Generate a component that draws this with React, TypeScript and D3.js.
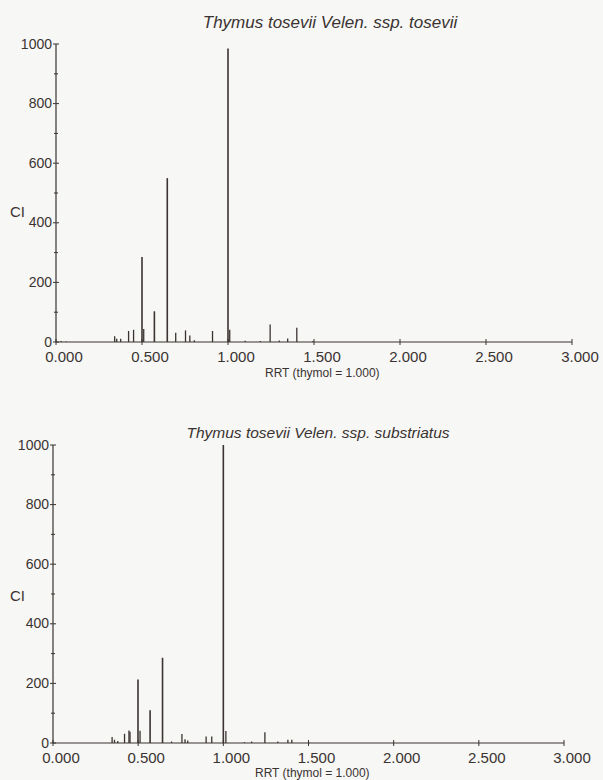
import React, { useRef, useEffect } from 'react';
import * as d3 from 'd3';

// tick values shared by both chromatograms
const rrtTicks = [0, 0.5, 1, 1.5, 2, 2.5, 3];
const ciTicks = [0, 200, 400, 600, 800, 1000];
const ciMinor = [100, 300, 500, 700, 900];

// ssp. tosevii peaks
const tosRrt = [0.03, 0.06, 0.341, 0.353, 0.376, 0.422, 0.451, 0.5, 0.51, 0.572, 0.647, 0.696, 0.753, 0.778, 0.804, 0.91, 1.0, 1.01, 1.1, 1.188, 1.245, 1.298, 1.347, 1.4, 1.494];
const tosCi = [3, 2, 19, 11, 11, 37, 41, 285, 44, 103, 550, 31, 39, 22, 6, 37, 985, 41, 4, 3, 59, 5, 12, 48, 3];

// ssp. substriatus peaks
const subRrt = [0.347, 0.361, 0.38, 0.42, 0.446, 0.452, 0.499, 0.511, 0.57, 0.643, 0.696, 0.757, 0.775, 0.791, 0.899, 0.932, 1.0, 1.015, 1.124, 1.166, 1.244, 1.32, 1.379, 1.402, 1.501];
const subCi = [20, 11, 7, 31, 42, 38, 213, 41, 110, 286, 5, 30, 13, 8, 22, 22, 1000, 40, 3, 5, 36, 5, 11, 11, 3];

const ink = '#3a3331';

const Chromatogram = () => {
  const svgRef = useRef(null);

  useEffect(() => {
    const svg = d3.select(svgRef.current);
    svg.selectAll('*').remove();

    svg.append('rect').attr('width', 603).attr('height', 780).attr('fill', '#f7f7f5');

    const panels = [
      { title: 'Thymus tosevii Velen. ssp. tosevii', rrt: tosRrt, ci: tosCi,
        x0: 56, x1: 572, y0: 342, y1: 44, titleX: 330, titleY: 28, titleSize: 17, ciY: 217, labelX: 265, labelY: 377 },
      { title: 'Thymus tosevii Velen. ssp. substriatus', rrt: subRrt, ci: subCi,
        x0: 53, x1: 564, y0: 743, y1: 445, titleX: 318, titleY: 438, titleSize: 15.5, ciY: 601, labelX: 255, labelY: 777 },
    ];

    panels.forEach(p => {
      const x = d3.scaleLinear().domain([0, 3]).range([p.x0, p.x1]);
      const y = d3.scaleLinear().domain([0, 1000]).range([p.y0, p.y1]);
      const g = svg.append('g').attr('font-family', 'Liberation Sans, Arial, sans-serif').attr('fill', ink);

      // title
      g.append('text')
        .attr('x', p.titleX).attr('y', p.titleY)
        .attr('text-anchor', 'middle')
        .attr('font-style', 'italic')
        .attr('font-size', p.titleSize)
        .text(p.title);

      // y axis
      g.append('line')
        .attr('x1', x(0)).attr('x2', x(0))
        .attr('y1', y(0)).attr('y2', y(1000))
        .attr('stroke', ink).attr('stroke-width', 1.2);
      g.selectAll('.ytick').data(ciTicks).enter().append('line')
        .attr('x1', x(0) - 3).attr('x2', x(0) + 3)
        .attr('y1', d => y(d)).attr('y2', d => y(d))
        .attr('stroke', ink).attr('stroke-width', 1);
      g.selectAll('.yminor').data(ciMinor).enter().append('line')
        .attr('x1', x(0) - 2).attr('x2', x(0) + 2)
        .attr('y1', d => y(d)).attr('y2', d => y(d))
        .attr('stroke', ink).attr('stroke-width', 1);
      g.selectAll('.ylab').data(ciTicks).enter().append('text')
        .attr('x', x(0) - 4).attr('y', d => y(d) + 4.5)
        .attr('text-anchor', 'end')
        .attr('font-size', 14)
        .text(d => d);

      g.append('text')
        .attr('x', 10).attr('y', p.ciY)
        .attr('font-size', 15)
        .text('CI');

      // x axis
      g.append('line')
        .attr('x1', x(0)).attr('x2', x(3))
        .attr('y1', y(0)).attr('y2', y(0))
        .attr('stroke', ink).attr('stroke-width', 1.2);
      g.selectAll('.xtick').data(rrtTicks).enter().append('line')
        .attr('x1', d => x(d)).attr('x2', d => x(d))
        .attr('y1', y(0) - 3).attr('y2', y(0) + 3)
        .attr('stroke', ink).attr('stroke-width', 1);
      g.selectAll('.xlab').data(rrtTicks).enter().append('text')
        .attr('x', d => x(d) + 8).attr('y', y(0) + 20)
        .attr('text-anchor', 'middle')
        .attr('font-size', 15)
        .text(d => d3.format('.3f')(d));

      g.append('text')
        .attr('x', p.labelX).attr('y', p.labelY)
        .attr('font-size', 12)
        .text('RRT (thymol = 1.000)');

      // peaks
      g.selectAll('.peak').data(p.rrt).enter().append('line')
        .attr('x1', d => x(d)).attr('x2', d => x(d))
        .attr('y1', y(0)).attr('y2', (d, i) => y(p.ci[i]))
        .attr('stroke', ink)
        .attr('stroke-width', (d, i) => (p.ci[i] > 100 ? 1.6 : 1.3));
    });
  }, []);

  return (
    <svg ref={svgRef} width={603} height={780} style={{ position: 'absolute', left: 0, top: 0 }}></svg>
  );
};

export default function App() {
  return <Chromatogram />;
}
